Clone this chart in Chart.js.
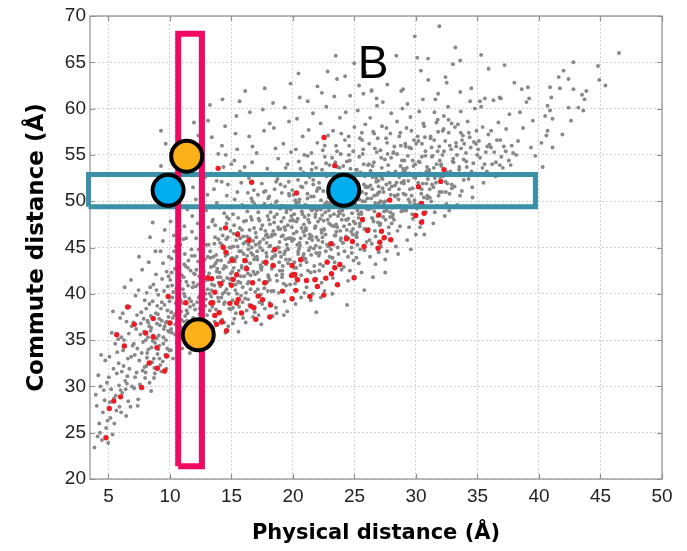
<!DOCTYPE html>
<html>
<head>
<meta charset="utf-8">
<script src="https://cdn.jsdelivr.net/npm/chart.js@4/dist/chart.umd.min.js"></script>
<style>
  html, body { margin: 0; padding: 0; background: #ffffff; }
  #wrap { width: 687px; height: 551px; }
</style>
</head>
<body>
<div id="wrap"><canvas id="chart" width="687" height="551"></canvas></div>
<script>
// Axis ticks
const xTicks = [5, 10, 15, 20, 25, 30, 35, 40, 45, 50];
const yTicks = [20, 25, 30, 35, 40, 45, 50, 55, 60, 65, 70];

// All residue pairs: [physical distance, commute distance] (Å)
const allPairs = [
  [3.86,23.4],[4.31,25.0],[4.05,27.9],[4.62,29.6],[4.18,31.2],[4.93,26.3],[4.47,24.2],[4.74,32.8],[3.97,29.1],[4.55,27.2],[4.25,26.0],[4.88,30.4],[4.12,24.6],[4.69,28.5],[4.4,33.4],[4.98,23.9],[4.35,30.0],[4.81,25.5],
  [5.12,28.3],[5.71,33.7],[5.03,31.0],[5.48,26.0],[5.86,30.1],[5.27,35.8],[5.59,29.0],[5.95,37.4],[5.33,24.8],[5.08,33.2],[5.64,27.4],[5.41,31.9],[5.79,35.1],[5.22,29.7],[5.9,27.8],[5.55,34.6],[5.16,26.6],[5.68,31.4],[5.37,38.1],[5.83,32.5],[5.45,28.7],[5.99,29.6],
  [6.08,31.6],[6.61,28.4],[6.27,35.0],[6.85,33.2],[6.4,29.7],[6.03,27.2],[6.73,38.6],[6.19,33.9],[6.54,31.1],[6.91,30.0],[6.32,40.7],[6.66,35.7],[6.12,29.3],[6.47,37.0],[6.97,34.4],[6.23,32.2],[6.79,27.8],[6.58,33.0],[6.36,30.6],[6.89,36.5],[6.05,35.3],[6.7,31.9],[6.44,26.8],[6.16,37.9],[6.83,41.5],[6.5,30.3],
  [7.14,33.4],[7.56,30.2],[7.03,36.9],[7.81,34.8],[7.29,31.5],[7.67,38.0],[7.42,28.6],[7.93,32.1],[7.2,39.8],[7.6,35.6],[7.09,29.8],[7.86,37.3],[7.35,34.1],[7.74,42.6],[7.51,32.8],[7.25,36.2],[7.98,30.9],[7.45,40.4],[7.7,33.6],[7.17,31.0],[7.89,35.9],[7.38,27.9],[7.63,36.8],[7.06,34.6],[7.48,44.0],[7.78,31.7],[7.32,37.7],[7.95,39.3],
  [8.21,35.3],[8.73,32.0],[8.07,38.4],[8.5,34.2],[8.94,36.8],[8.34,30.4],[8.66,41.0],[8.13,33.1],[8.86,37.9],[8.42,36.0],[8.02,31.5],[8.59,39.2],[8.28,43.4],[8.79,34.7],[8.47,29.5],[8.99,33.5],[8.17,37.1],[8.63,35.5],[8.38,46.1],[8.9,40.4],[8.25,34.0],[8.55,32.6],[8.82,44.6],[8.11,40.1],[8.45,37.6],[8.7,30.9],[8.32,36.5],[8.97,38.7],[8.6,47.7],[8.04,35.0],
  [9.18,36.6],[9.62,33.4],[9.05,39.9],[9.47,35.3],[9.88,37.5],[9.3,31.6],[9.73,42.4],[9.12,34.4],[9.55,38.8],[9.93,35.9],[9.24,44.6],[9.66,36.9],[9.41,32.7],[9.82,40.8],[9.02,37.8],[9.36,41.6],[9.78,34.1],[9.58,46.9],[9.15,33.0],[9.97,39.2],[9.5,36.2],[9.27,38.4],[9.7,31.9],[9.44,43.3],[9.85,36.0],[9.09,35.5],[9.6,49.4],[9.33,37.1],[9.91,44.0],[9.27,57.6],[9.65,56.2],[9.27,53.8],[9.52,40.3],
  [10.11,38.0],[10.57,34.8],[10.03,41.5],[10.44,36.7],[10.86,39.3],[10.25,33.0],[10.69,44.0],[10.15,35.8],[10.52,40.6],[10.93,37.2],[10.32,46.3],[10.76,38.6],[10.07,33.9],[10.4,42.7],[10.82,35.2],[10.2,39.6],[10.63,48.5],[10.96,42.0],[10.36,37.7],[10.72,32.4],[10.48,45.1],[10.13,43.8],[10.88,36.4],[10.29,51.0],[10.6,38.9],[10.99,34.1],[10.54,52.8],[10.18,40.9],[10.79,46.9],[10.42,35.6],[10.66,55.3],[10.05,47.8],
  [11.03,36.1],[11.47,40.9],[11.21,44.3],[11.88,37.4],[11.66,34.3],[11.12,41.8],[11.35,38.2],[11.79,46.7],[11.57,39.5],[11.95,42.2],[11.28,35.0],[11.41,49.1],[11.71,36.9],[11.06,39.0],[11.84,40.7],[11.5,43.6],[11.17,47.3],[11.62,33.6],[11.92,38.8],[11.33,41.3],[11.75,44.8],[11.24,37.6],[11.54,36.0],[11.09,45.9],[11.87,51.5],[11.43,37.9],[11.68,42.5],[11.99,35.7],[11.38,53.6],[11.14,40.0],[11.95,58.5],[11.6,55.9],[11.81,48.4],[11.26,43.0],
  [12.44,39.8],[12.07,36.5],[12.83,43.7],[12.29,41.0],[12.62,37.1],[12.95,45.3],[12.15,42.6],[12.51,48.9],[12.74,40.3],[12.36,35.4],[12.88,38.7],[12.02,44.1],[12.58,42.0],[12.22,39.1],[12.69,46.5],[12.41,37.8],[12.97,41.6],[12.11,50.2],[12.79,36.0],[12.33,44.8],[12.55,40.7],[12.26,47.6],[12.91,39.4],[12.47,34.5],[12.65,43.1],[12.05,38.3],[12.86,52.6],[12.38,41.9],[12.72,45.8],[12.18,54.3],[12.6,38.0],[12.94,49.0],[12.31,57.1],[12.49,43.4],[12.77,35.3],[12.13,46.0],
  [13.06,40.5],[13.63,37.0],[13.27,44.6],[13.88,41.8],[13.45,38.6],[13.12,47.2],[13.71,43.3],[13.36,39.7],[13.94,45.9],[13.53,36.3],[13.19,42.2],[13.81,49.8],[13.41,41.0],[13.02,37.7],[13.67,46.1],[13.3,43.9],[13.97,39.2],[13.58,51.3],[13.23,40.0],[13.76,44.2],[13.49,48.0],[13.09,35.6],[13.85,42.7],[13.39,53.0],[13.61,40.9],[13.15,45.3],[13.74,38.3],[13.33,42.9],[13.92,55.1],[13.55,44.0],[13.25,60.4],[13.1,58.7],[13.4,56.9],[13.83,36.7],[13.68,47.4],[13.05,50.7],[13.47,34.9],[13.79,52.2],
  [14.33,41.4],[14.81,38.4],[14.07,45.5],[14.56,42.9],[14.92,46.8],[14.18,39.6],[14.69,44.3],[14.41,48.7],[14.03,42.3],[14.87,41.1],[14.25,37.2],[14.62,50.6],[14.47,40.2],[14.96,43.8],[14.12,47.0],[14.74,36.5],[14.37,44.9],[14.58,45.9],[14.21,52.1],[14.89,39.0],[14.44,43.0],[14.09,40.8],[14.78,48.1],[14.29,46.3],[14.65,41.7],[14.51,35.8],[14.99,54.0],[14.15,43.6],[14.71,51.8],[14.39,38.9],[14.84,45.0],[14.23,56.0],[14.6,47.6],[14.05,49.3],[14.95,42.2],[14.48,58.1],[14.35,53.7],[14.77,40.0],[14.54,55.0],[14.27,61.0],
  [15.41,42.0],[15.09,39.3],[15.72,46.0],[15.28,43.5],[15.91,40.7],[15.55,48.2],[15.16,45.1],[15.83,43.0],[15.36,37.9],[15.64,44.6],[15.02,41.6],[15.48,51.0],[15.78,39.8],[15.22,47.4],[15.97,45.4],[15.59,42.5],[15.11,36.8],[15.44,44.0],[15.87,49.6],[15.31,40.4],[15.69,53.2],[15.05,43.9],[15.52,46.6],[15.94,37.4],[15.26,50.2],[15.76,41.9],[15.38,45.8],[15.13,48.6],[15.62,38.6],[15.85,46.9],[15.47,55.6],[15.19,42.8],[15.8,52.0],[15.33,57.3],[15.57,35.9],[15.99,44.3],[15.4,59.2],[15.66,60.8],[15.24,54.4],[15.73,41.2],
  [16.52,43.3],[16.18,40.1],[16.84,47.1],[16.37,44.8],[16.04,41.9],[16.7,50.0],[16.27,46.2],[16.95,43.9],[16.46,38.8],[16.13,45.6],[16.78,42.4],[16.58,48.3],[16.31,41.1],[16.89,38.0],[16.09,49.4],[16.64,45.0],[16.42,52.5],[16.22,43.5],[16.97,46.6],[16.55,40.5],[16.74,44.2],[16.01,47.8],[16.35,39.4],[16.82,51.2],[16.48,46.0],[16.16,36.9],[16.68,54.2],[16.29,48.9],[16.92,42.1],[16.6,44.4],[16.07,53.7],[16.44,57.0],[16.86,49.7],[16.2,42.9],[16.76,37.5],[16.39,45.3],[16.5,59.6],[16.12,61.9],[16.71,55.9],[16.33,50.9],
  [17.07,44.0],[17.63,41.2],[17.28,47.9],[17.86,45.5],[17.44,42.6],[17.15,50.7],[17.75,46.8],[17.38,39.9],[17.94,48.4],[17.53,44.7],[17.21,37.7],[17.81,43.2],[17.47,51.9],[17.02,46.1],[17.67,40.6],[17.33,45.0],[17.98,42.0],[17.58,49.5],[17.11,43.7],[17.72,38.4],[17.4,47.0],[17.91,53.5],[17.25,41.5],[17.6,45.9],[17.05,55.2],[17.83,44.4],[17.5,38.9],[17.18,48.8],[17.77,51.1],[17.36,43.1],[17.96,40.3],[17.65,57.6],[17.3,52.8],[17.88,46.4],[17.13,42.3],[17.55,59.9],[17.43,36.7],[17.7,62.2],[17.23,45.4],[17.99,50.3],
  [18.36,44.6],[18.02,41.8],[18.69,48.6],[18.24,46.2],[18.88,43.4],[18.51,51.3],[18.13,47.5],[18.77,45.0],[18.43,40.3],[18.95,49.2],[18.3,43.0],[18.62,38.5],[18.07,50.5],[18.83,47.0],[18.55,44.1],[18.19,53.0],[18.72,41.4],[18.4,46.8],[18.91,45.6],[18.1,39.0],[18.6,49.9],[18.27,43.8],[18.8,54.6],[18.47,47.7],[18.15,45.2],[18.66,42.0],[18.99,51.8],[18.34,37.6],[18.58,55.7],[18.04,48.0],[18.85,40.1],[18.45,57.9],[18.21,49.6],[18.74,52.4],[18.53,46.4],[18.38,60.6],[18.93,44.5],[18.11,58.4],[18.67,37.9],[18.28,42.7],
  [19.5,45.3],[19.14,42.5],[19.81,49.1],[19.37,46.9],[19.03,44.0],[19.66,52.1],[19.25,48.2],[19.92,45.7],[19.44,40.9],[19.09,50.9],[19.74,43.7],[19.58,47.4],[19.31,39.2],[19.87,48.4],[19.19,46.3],[19.62,44.8],[19.41,53.6],[19.97,42.2],[19.06,47.8],[19.7,50.6],[19.28,44.3],[19.53,38.1],[19.84,55.3],[19.17,43.0],[19.64,46.0],[19.35,51.6],[19.01,49.5],[19.77,41.0],[19.47,48.8],[19.22,56.2],[19.9,47.2],[19.56,54.0],[19.11,41.8],[19.68,58.6],[19.39,45.9],[19.8,62.7],[19.33,60.1],[19.94,51.2],[19.6,43.3],[19.26,37.7],
  [20.08,45.9],[20.61,43.1],[20.26,49.8],[20.89,47.5],[20.43,44.6],[20.15,52.8],[20.72,48.9],[20.35,41.6],[20.96,46.3],[20.53,50.2],[20.21,38.9],[20.81,44.0],[20.47,54.3],[20.04,47.9],[20.67,42.0],[20.3,46.7],[20.99,49.6],[20.57,45.2],[20.12,43.4],[20.76,51.5],[20.39,48.1],[20.93,40.1],[20.24,55.6],[20.63,46.0],[20.05,50.7],[20.85,53.1],[20.5,44.9],[20.18,41.1],[20.79,57.0],[20.41,52.3],[20.97,46.8],[20.66,39.6],[20.33,58.9],[20.88,44.3],[20.1,48.6],[20.55,61.2],[20.7,47.1],[20.28,42.8],[20.45,63.8],[20.92,55.0],
  [21.37,46.4],[21.02,43.8],[21.69,50.5],[21.24,48.0],[21.86,45.2],[21.52,53.4],[21.15,49.5],[21.78,47.1],[21.44,42.3],[21.94,51.1],[21.29,44.7],[21.61,40.0],[21.06,52.0],[21.83,48.6],[21.57,45.8],[21.2,54.9],[21.73,43.0],[21.41,49.2],[21.91,46.1],[21.11,40.7],[21.65,51.8],[21.33,47.7],[21.98,56.3],[21.48,44.2],[21.18,50.3],[21.76,42.4],[21.54,49.0],[21.27,57.7],[21.88,53.6],[21.08,46.9],[21.63,59.5],[21.45,39.3],[21.2,60.8],[21.81,48.3],[21.35,52.6],[21.7,44.9],[21.99,62.4],[21.5,55.2],[21.13,45.5],[21.9,41.6],[21.9,38.0],
  [22.53,47.0],[22.17,44.4],[22.83,51.0],[22.38,48.5],[22.05,45.8],[22.69,54.1],[22.28,50.1],[22.94,47.6],[22.45,43.0],[22.12,52.0],[22.77,45.3],[22.6,49.7],[22.33,41.2],[22.89,50.4],[22.22,48.1],[22.65,46.4],[22.42,55.5],[22.98,44.0],[22.08,49.3],[22.73,52.7],[22.3,46.9],[22.56,40.3],[22.86,57.1],[22.19,45.0],[22.63,48.8],[22.36,53.4],[22.02,51.4],[22.79,43.5],[22.49,47.9],[22.25,58.4],[22.92,49.0],[22.58,56.0],[22.14,42.5],[22.71,60.2],[22.4,46.1],[22.82,64.0],[22.35,61.7],[22.96,53.9],[22.67,44.6],[22.27,39.6],
  [23.11,47.4],[23.64,45.0],[23.29,51.6],[23.91,49.2],[23.46,46.3],[23.18,54.7],[23.75,50.8],[23.39,43.4],[23.97,48.0],[23.56,52.6],[23.24,41.7],[23.84,46.8],[23.5,56.0],[23.07,49.9],[23.7,44.3],[23.33,48.6],[23.02,51.2],[23.6,47.2],[23.15,45.5],[23.79,53.6],[23.42,50.0],[23.95,42.6],[23.26,57.6],[23.66,48.4],[23.08,52.9],[23.88,55.1],[23.53,46.7],[23.21,43.9],[23.81,59.0],[23.44,54.2],[23.99,49.5],[23.69,41.0],[23.36,61.3],[23.9,46.0],[23.13,50.5],[23.58,63.2],[23.73,48.9],[23.31,45.3],[23.48,65.7],[23.93,57.3],[23.2,40.0],
  [24.4,48.0],[24.04,45.5],[24.72,52.2],[24.26,49.6],[24.88,47.0],[24.55,55.0],[24.17,51.2],[24.8,48.7],[24.47,44.0],[24.96,52.9],[24.31,46.2],[24.63,42.5],[24.09,53.8],[24.85,50.3],[24.59,47.5],[24.22,56.6],[24.76,45.0],[24.43,50.9],[24.93,47.8],[24.13,42.9],[24.67,53.5],[24.35,49.3],[24.99,58.0],[24.51,46.0],[24.2,51.9],[24.78,44.4],[24.57,50.6],[24.29,59.6],[24.9,55.4],[24.1,48.5],[24.65,61.4],[24.48,41.4],[24.24,63.5],[24.83,49.9],[24.38,54.3],[24.73,46.7],[24.98,64.9],[24.53,57.0],[24.15,47.3],[24.92,43.6],[24.4,38.8],
  [25.55,48.6],[25.19,46.1],[25.84,52.7],[25.4,50.2],[25.07,47.6],[25.71,55.6],[25.3,51.8],[25.96,49.2],[25.47,44.8],[25.14,53.4],[25.79,47.0],[25.62,51.0],[25.35,43.3],[25.91,51.5],[25.24,49.0],[25.67,47.9],[25.44,56.8],[25.99,45.6],[25.1,50.4],[25.75,54.0],[25.32,48.2],[25.58,42.3],[25.88,58.3],[25.21,46.6],[25.65,50.0],[25.38,54.8],[25.04,52.4],[25.81,44.7],[25.51,49.5],[25.27,59.8],[25.94,50.8],[25.6,57.4],[25.16,43.9],[25.73,61.6],[25.42,47.3],[25.86,63.9],[25.37,62.5],[25.8,40.4],
  [26.13,49.1],[26.66,46.8],[26.31,53.3],[26.93,50.9],[26.48,48.1],[26.2,56.2],[26.77,52.1],[26.41,45.4],[26.98,49.8],[26.58,54.2],[26.26,44.0],[26.86,48.4],[26.52,57.5],[26.09,51.5],[26.72,46.2],[26.35,50.3],[26.04,52.9],[26.62,48.9],[26.17,47.0],[26.81,55.3],[26.44,51.3],[26.97,44.5],[26.28,59.0],[26.68,49.8],[26.1,53.9],[26.89,56.8],[26.55,47.8],[26.23,45.8],[26.83,60.3],[26.46,52.6],[26.95,51.6],[26.71,43.2],[26.38,61.9],[26.4,62.0],[26.8,61.1],[26.6,50.6],[26.5,41.8],
  [27.42,49.6],[27.06,47.4],[27.74,53.9],[27.28,51.4],[27.9,48.8],[27.57,56.8],[27.19,52.6],[27.82,50.2],[27.49,46.1],[27.98,54.7],[27.33,48.3],[27.65,44.6],[27.11,55.5],[27.87,52.0],[27.61,49.0],[27.24,58.1],[27.78,47.2],[27.45,52.9],[27.95,50.7],[27.15,45.1],[27.69,55.1],[27.37,51.0],[27.99,59.5],[27.53,48.0],[27.22,53.6],[27.8,46.5],[27.59,51.8],[27.31,60.7],[27.92,57.3],[27.12,50.0],[27.67,62.6],[27.5,43.7],[27.5,42.3],
  [28.58,50.2],[28.21,48.0],[28.86,54.4],[28.42,52.0],[28.09,49.3],[28.73,57.4],[28.33,53.2],[28.98,50.8],[28.5,46.8],[28.16,55.2],[28.81,48.9],[28.64,52.6],[28.37,45.1],[28.93,53.1],[28.26,50.6],[28.69,49.5],[28.46,58.6],[28.03,47.6],[28.77,56.0],[28.29,51.7],[28.55,44.3],[28.89,60.0],[28.13,48.6],[28.62,51.3],[28.4,65.7],[28.8,61.9],[28.95,62.1],[28.24,55.9],[28.7,47.3],
  [29.16,50.7],[29.69,48.6],[29.34,54.9],[29.95,52.5],[29.51,49.9],[29.23,57.9],[29.8,53.8],[29.44,47.2],[29.02,51.9],[29.61,55.7],[29.29,45.8],[29.88,50.1],[29.55,59.1],[29.11,53.3],[29.75,48.1],[29.38,52.2],[29.06,54.4],[29.65,50.6],[29.2,49.0],[29.84,56.6],[29.47,53.0],[29.99,46.4],[29.31,60.5],[29.9,67.8],[29.72,51.4],[29.13,56.2],[29.58,44.8],
  [30.46,51.3],[30.09,49.2],[30.77,55.4],[30.3,53.0],[30.93,50.6],[30.6,58.4],[30.22,54.3],[30.85,51.9],[30.53,47.9],[30.01,56.2],[30.36,49.8],[30.68,46.4],[30.14,57.0],[30.9,53.7],[30.64,50.4],[30.27,59.7],[30.81,48.8],[30.48,54.8],[30.97,52.4],[30.1,65.5],[30.98,65.4],[30.4,64.1],[30.72,56.9],[30.18,52.0],[30.56,61.0],[30.33,47.2],
  [31.62,52.0],[31.24,50.0],[31.89,55.9],[31.45,53.6],[31.12,51.3],[31.77,58.8],[31.36,54.9],[31.96,52.6],[31.53,48.8],[31.18,56.8],[31.84,50.6],[31.68,54.0],[31.41,47.6],[31.93,54.4],[31.3,51.8],[31.72,49.5],[31.5,59.6],[31.07,53.3],[31.8,57.5],[31.9,68.9],[31.0,63.1],[31.8,61.6],[31.58,61.0],[31.27,55.8],
  [32.19,52.7],[32.73,50.8],[32.38,56.5],[32.98,54.3],[32.55,51.9],[32.27,59.2],[32.86,55.6],[32.47,49.7],[32.06,53.8],[32.66,57.4],[32.34,48.4],[32.92,51.4],[32.6,60.2],[32.15,55.0],[32.79,53.2],[32.43,51.0],[32.4,63.4],[32.5,62.8],[32.9,58.4],[32.25,57.8],[32.7,49.0],
  [33.51,53.4],[33.14,51.6],[33.81,57.1],[33.33,55.0],[33.95,52.8],[33.64,59.7],[33.26,56.3],[33.88,54.5],[33.58,50.6],[33.05,54.2],[33.41,58.3],[33.73,51.1],[33.2,66.6],[33.0,64.8],[33.6,65.2],[33.6,61.8],[33.92,56.2],[33.36,49.6],[33.67,55.7],
  [34.66,54.1],[34.28,52.4],[34.92,57.6],[34.45,55.8],[34.13,53.7],[34.79,60.0],[34.37,56.9],[34.98,55.0],[34.57,51.5],[34.2,58.6],[34.84,53.0],[34.5,62.2],[34.4,60.8],[34.71,56.4],[34.06,55.2],[34.6,50.4],
  [35.21,54.7],[35.76,53.2],[35.42,58.0],[35.97,56.1],[35.58,54.0],[35.3,60.2],[35.88,57.2],[35.49,52.0],[35.3,65.8],[35.2,60.8],[35.6,61.1],[35.9,64.3],[35.12,56.5],[35.68,55.3],
  [36.36,55.3],[36.82,53.9],[36.11,57.6],[36.58,56.6],[36.94,54.8],[36.3,60.9],[36.8,61.2],[36.9,61.1],[36.47,52.7],[36.7,58.5],[36.2,54.0],
  [37.2,64.7],[37.14,55.9],[37.55,54.4],[37.33,57.8],[37.78,56.0],[37.06,53.6],[37.6,59.4],[37.9,55.2],
  [38.0,62.8],[38.6,62.1],[39.1,62.3],[39.2,61.1],[38.98,60.7],[39.5,58.7],[38.3,56.5],[38.7,57.9],[38.15,55.0],[39.35,55.8],[38.45,59.6],[39.7,54.9],
  [40.9,62.3],[41.7,62.2],[41.0,61.2],[40.7,60.3],[40.9,59.8],[40.5,59.2],[41.1,58.9],[40.7,57.6],[40.6,57.1],[41.1,55.8],[40.3,53.7],[42.8,65.0],[42.0,64.1],[41.6,63.4],[42.4,63.2],[42.8,62.1],[43.85,61.9],[43.5,61.5],[43.7,61.0],[42.4,60.1],[43.2,60.1],[43.6,59.8],[42.6,58.7],[44.8,64.6],[44.9,63.1],[45.4,62.5],[46.5,66.0],[40.2,56.3],[41.9,57.2],
  // core of the distribution
  [8.15,33.6],[8.48,36.3],[8.77,31.4],[8.33,38.9],[8.61,34.9],[8.92,35.2],[8.08,32.2],[8.56,37.4],[8.87,42.1],[8.23,36.9],[8.69,33.0],[8.4,40.7],
  [9.13,37.3],[9.46,34.6],[9.79,38.2],[9.21,32.3],[9.57,36.5],[9.89,41.9],[9.34,39.1],[9.68,35.0],[9.04,34.0],[9.42,45.7],[9.74,37.0],[9.95,33.9],
  [10.09,36.2],[10.47,39.0],[10.81,41.4],[10.23,37.4],[10.58,33.6],[10.91,38.1],[10.34,44.6],[10.66,36.6],[10.14,42.3],[10.5,37.9],[10.85,45.3],[10.27,40.2],[10.74,35.5],
  [11.05,40.5],[11.39,37.1],[11.72,39.2],[11.16,43.2],[11.52,35.3],[11.9,41.2],[11.31,46.0],[11.63,38.6],[11.84,36.2],[11.22,39.7],[11.46,42.8],[11.78,44.1],[11.11,37.0],
  [12.09,40.8],[12.43,38.4],[12.76,42.4],[12.21,36.9],[12.57,44.5],[12.89,40.0],[12.34,39.6],[12.67,37.4],[12.03,42.1],[12.52,46.9],[12.84,41.4],[12.28,43.5],[12.62,39.3],[12.96,37.0],
  [13.13,41.5],[13.52,39.1],[13.86,43.6],[13.24,38.2],[13.61,45.4],[13.96,41.2],[13.37,40.4],[13.7,37.7],[13.07,44.0],[13.44,47.8],[13.8,42.4],[13.29,36.1],[13.57,43.0],[13.91,39.6],
  [14.11,41.8],[14.46,39.1],[14.8,43.4],[14.22,45.3],[14.6,40.5],[14.94,38.3],[14.34,42.7],[14.7,46.1],[14.04,38.0],[14.52,44.1],[14.86,41.6],[14.28,40.0],[14.63,48.3],[14.97,45.0],[14.4,36.9],
  [15.07,42.4],[15.45,40.0],[15.79,44.6],[15.18,46.5],[15.56,41.3],[15.9,39.1],[15.29,43.8],[15.68,47.1],[15.12,38.5],[15.5,45.1],[15.84,42.8],[15.35,41.0],[15.62,49.4],[15.96,46.2],[15.23,37.3],
  [16.06,43.5],[16.41,41.3],[16.77,45.7],[16.19,47.9],[16.56,42.0],[16.93,40.2],[16.28,44.1],[16.66,48.0],[16.11,39.5],[16.48,46.9],[16.84,43.7],[16.34,42.2],[16.62,50.3],[16.97,45.3],[16.24,38.2],
  [17.09,44.6],[17.46,42.9],[17.8,46.3],[17.2,48.1],[17.57,43.4],[17.92,41.3],[17.32,45.6],[17.68,49.7],[17.14,40.5],[17.51,47.4],[17.87,44.0],[17.38,42.8],[17.63,51.0],[17.97,46.1],[17.27,39.1],
  [18.08,45.1],[18.44,43.0],[18.79,47.2],[18.18,48.8],[18.56,44.2],[18.92,42.5],[18.31,46.4],[18.68,50.0],[18.12,41.5],[18.49,48.3],[18.86,45.0],[18.37,44.0],[18.63,52.1],[18.97,47.0],[18.25,40.3],
  [19.07,46.2],[19.43,43.7],[19.78,47.9],[19.19,49.5],[19.55,44.9],[19.91,43.1],[19.3,47.2],[19.67,50.8],[19.13,42.1],[19.48,49.1],[19.85,46.0],[19.36,44.6],[19.62,52.8],[19.96,48.0],[19.24,41.1],
  [20.06,46.5],[20.42,44.3],[20.77,48.6],[20.19,50.1],[20.54,45.5],[20.9,43.7],[20.29,47.8],[20.66,51.6],[20.12,42.8],[20.48,49.9],[20.84,46.7],[20.35,45.3],[20.61,53.5],[20.95,48.3],[20.23,41.8],
  [21.05,47.1],[21.41,45.0],[21.76,49.2],[21.18,50.8],[21.53,46.2],[21.89,44.4],[21.28,48.5],[21.65,52.3],[21.11,43.4],[21.47,50.5],[21.83,47.3],[21.34,46.0],[21.6,54.1],[21.94,49.0],[21.22,42.5],
  [22.04,47.8],[22.4,45.6],[22.75,49.9],[22.17,51.4],[22.52,46.9],[22.88,45.1],[22.27,49.1],[22.64,53.0],[22.1,44.1],[22.46,51.1],[22.82,48.0],[22.33,46.6],[22.59,54.8],[22.93,49.6],[22.21,43.2],
  [23.03,48.4],[23.39,46.3],[23.74,50.5],[23.16,52.1],[23.51,47.5],[23.87,45.8],[23.26,49.8],[23.63,53.7],[23.09,44.8],[23.45,51.8],[23.81,48.7],[23.32,47.3],[23.58,55.4],[23.92,50.3],[23.2,43.9],
  [24.02,49.0],[24.38,46.9],[24.73,51.2],[24.15,52.8],[24.5,48.1],[24.86,46.4],[24.25,50.4],[24.62,54.4],[24.08,45.5],[24.44,52.4],[24.8,49.4],[24.31,48.0],[24.57,56.0],[24.91,50.9],[24.19,44.6],
  [25.06,49.7],[25.43,47.6],[25.77,51.8],[25.2,53.4],[25.55,48.8],[25.92,47.0],[25.3,51.1],[25.67,55.1],[25.13,46.3],[25.49,53.1],[25.85,50.0],[25.36,48.6],[25.62,56.6],[25.96,51.6],[25.24,45.3],
  [26.05,50.3],[26.42,48.2],[26.76,52.5],[26.19,54.0],[26.54,49.4],[26.91,47.7],[26.29,51.7],[26.66,55.7],[26.12,46.9],[26.48,53.8],[26.84,50.7],[26.35,49.2],[26.61,57.3],[26.95,52.2],
  [27.04,51.0],[27.41,48.9],[27.75,53.1],[27.18,54.7],[27.53,50.0],[27.9,48.3],[27.28,52.4],[27.65,56.3],[27.11,47.6],[27.47,54.5],[27.83,51.3],[27.34,49.9],[27.6,57.9],[27.94,52.9],
  [28.03,51.6],[28.4,49.5],[28.74,53.8],[28.17,55.3],[28.52,50.7],[28.89,49.0],[28.27,53.0],[28.64,57.0],[28.1,48.3],[28.46,55.1],[28.82,52.0],[28.33,50.5],[28.95,53.5],
  [29.02,52.2],[29.39,50.2],[29.73,54.4],[29.16,55.9],[29.51,51.3],[29.88,49.7],[29.26,53.6],[29.63,57.6],[29.09,49.0],[29.45,55.8],[29.81,52.6],[29.94,54.0],
  [30.06,52.8],[30.43,50.8],[30.77,54.9],[30.2,56.5],[30.55,51.9],[30.92,50.3],[30.3,54.2],[30.67,58.1],[30.13,49.6],[30.49,56.2],[30.85,53.2],
  [31.05,53.4],[31.42,51.5],[31.76,55.4],[31.19,57.0],[31.54,52.5],[31.91,51.0],[31.29,54.8],[31.66,58.5],[31.12,50.4],[31.48,56.6],
  [32.04,54.0],[32.41,52.1],[32.75,56.0],[32.18,57.6],[32.53,53.1],[32.9,51.8],[32.28,55.4],[32.65,58.8],[32.11,51.0],
  [33.03,54.6],[33.4,52.8],[33.74,56.6],[33.17,58.0],[33.52,53.7],[33.89,52.3],[33.27,55.9],[33.64,57.4],
  [34.09,54.3],[34.52,53.2],[34.88,56.2],[34.3,57.4],[35.05,55.6],[35.4,53.6],[35.8,55.9],[36.1,55.8],[36.5,54.2],[36.85,56.6],[37.3,55.4],[37.7,53.9]
];

// Highlighted pairs (red)
const highlightPairs = [
  [4.80,24.45],[5.07,27.62],[5.43,28.41],[5.99,28.87],[7.70,29.88],[5.67,35.59],[6.29,34.36],[6.56,38.57],[7.10,36.70],[8.02,35.76],
  [8.64,37.32],[8.64,35.33],[8.94,34.19],[9.73,33.29],[10.00,36.84],[8.32,32.53],[8.97,31.96],[9.57,31.67],[9.86,39.72],[11.30,39.04],
  [13.33,39.00],[13.79,36.70],[14.20,36.95],[14.60,36.02],[13.65,37.67],[14.87,38.97],[15.82,37.92],[13.47,39.04],[14.00,37.96],[13.06,41.73],
  [13.39,41.63],[14.55,44.49],[15.06,43.60],[16.09,43.60],[16.23,42.70],[17.80,43.42],[18.39,43.06],[19.93,43.06],[20.15,42.09],[17.72,41.20],
  [16.72,41.20],[15.42,42.06],[15.14,41.55],[15.01,40.91],[14.14,41.09],[19.15,40.29],[19.93,39.47],[17.17,39.75],[17.53,39.36],[16.58,38.67],
  [16.82,38.50],[15.42,39.00],[16.98,37.24],[18.12,37.49],[16.64,52.04],[20.29,50.89],[27.87,50.12],[25.65,48.02],[26.98,48.52],[26.07,46.83],
  [27.20,46.76],[27.41,46.05],[27.95,45.83],[24.35,45.94],[24.84,45.65],[25.78,45.11],[27.06,45.57],[26.92,44.92],[23.08,45.40],[14.52,47.12],
  [15.50,46.40],[16.42,45.75],[14.33,45.03],[18.53,44.78],[20.62,43.67],[22.78,43.42],[23.40,42.81],[23.81,43.17],[23.13,42.17],[22.67,41.69],
  [19.89,41.98],[20.37,41.52],[21.10,41.44],[21.78,41.52],[24.97,41.73],[23.62,40.98],[21.99,40.80],[20.23,40.37],[21.37,39.72],[22.51,39.86],
  [13.65,40.18],[15.55,39.40],[18.18,38.78],[22.53,56.89],[23.40,53.84],[13.92,53.55],[32.28,53.41],[32.01,52.14],[30.20,51.57],[30.45,49.77],
  [29.98,48.45],[30.66,48.70],[30.45,47.73]
];

// Vertical selection (physical distance window) and horizontal selection (commute distance window)
const bandX = [10.67, 12.60];
const bandY = [21.38, 68.07];
const stripX = [3.38, 39.71];
const stripY = [49.41, 52.88];

// Example pairs marked with discs
const orangePairs = [[11.36, 54.86], [12.30, 35.57]];
const bluePairs = [[9.85, 51.18], [24.13, 51.18]];

const toXY = (arr) => arr.map(p => ({ x: p[0], y: p[1] }));
const rectPath = (xs, ys) => [
  { x: xs[0], y: ys[0] }, { x: xs[1], y: ys[0] },
  { x: xs[1], y: ys[1] }, { x: xs[0], y: ys[1] }, { x: xs[0], y: ys[0] }
];

// Frame with inward tick marks on all four sides, plus the panel letter
const framePlugin = {
  id: 'frame',
  beforeDatasetsDraw(chart) {
    const { ctx, chartArea: a, scales: { x, y } } = chart;
    ctx.save();
    ctx.strokeStyle = '#8f8f8f';
    ctx.lineWidth = 1.2;
    ctx.strokeRect(a.left, a.top, a.right - a.left, a.bottom - a.top);
    const L = 5;
    ctx.beginPath();
    xTicks.forEach(v => {
      const px = Math.round(x.getPixelForValue(v)) + 0.5;
      ctx.moveTo(px, a.bottom); ctx.lineTo(px, a.bottom - L);
      ctx.moveTo(px, a.top); ctx.lineTo(px, a.top + L);
    });
    yTicks.forEach(v => {
      const py = Math.round(y.getPixelForValue(v)) + 0.5;
      ctx.moveTo(a.left, py); ctx.lineTo(a.left + L, py);
      ctx.moveTo(a.right, py); ctx.lineTo(a.right - L, py);
    });
    ctx.stroke();
    ctx.restore();
  },
  afterDatasetsDraw(chart, args, opts) {
    const { ctx, scales: { x, y } } = chart;
    ctx.save();
    ctx.fillStyle = '#000';
    ctx.font = '46px "Liberation Sans", Arial, sans-serif';
    ctx.textBaseline = 'alphabetic';
    ctx.textAlign = 'left';
    ctx.fillText(opts.text, x.getPixelForValue(opts.x), y.getPixelForValue(opts.y));
    ctx.restore();
  }
};

const gridCommon = {
  color: '#d2d2d2',
  lineWidth: 1,
  drawTicks: false,
  borderDash: [2, 2]
};
const borderCommon = { display: false, dash: [2, 2] };

new Chart(document.getElementById('chart'), {
  type: 'scatter',
  data: {
    datasets: [
      {
        label: 'orange',
        data: toXY(orangePairs),
        pointRadius: 15.5,
        pointBackgroundColor: '#fbb117',
        pointBorderColor: '#000',
        pointBorderWidth: 4,
        clip: false
      },
      {
        label: 'blue',
        data: toXY(bluePairs),
        pointRadius: 15.5,
        pointBackgroundColor: '#00aeef',
        pointBorderColor: '#000',
        pointBorderWidth: 4,
        clip: false
      },
      {
        label: 'band',
        data: rectPath(bandX, bandY),
        showLine: true,
        borderColor: '#f20a62',
        borderWidth: 6,
        pointRadius: 0,
        fill: false,
        tension: 0,
        borderJoinStyle: 'miter',
        clip: false
      },
      {
        label: 'strip',
        data: rectPath(stripX, stripY),
        showLine: true,
        borderColor: '#3a91a7',
        borderWidth: 5,
        pointRadius: 0,
        fill: false,
        tension: 0,
        borderJoinStyle: 'miter',
        clip: false
      },
      {
        label: 'highlight',
        data: toXY(highlightPairs),
        pointRadius: 2.7,
        pointBackgroundColor: '#ec1c24',
        pointBorderWidth: 0
      },
      {
        label: 'all',
        data: toXY(allPairs),
        pointRadius: 1.95,
        pointBackgroundColor: '#888888',
        pointBorderWidth: 0
      }
    ]
  },
  options: {
    responsive: false,
    animation: false,
    devicePixelRatio: 1,
    layout: { autoPadding: false, padding: { left: 0, top: 16, right: 25, bottom: 0 } },
    plugins: {
      legend: { display: false },
      tooltip: { enabled: false },
      frame: { text: 'B', x: 25.27, y: 63.35 }
    },
    scales: {
      x: {
        type: 'linear',
        min: 3.5,
        max: 50,
        afterBuildTicks: (s) => { s.ticks = xTicks.map(v => ({ value: v })); },
        afterFit: (s) => { s.height = 72; },
        border: borderCommon,
        grid: gridCommon,
        ticks: {
          padding: 6,
          color: '#222',
          font: { family: '"Liberation Sans", Arial, sans-serif', size: 19 }
        },
        title: {
          display: true,
          text: 'Physical distance (Å)',
          color: '#000',
          font: { family: '"DejaVu Sans", Verdana, sans-serif', size: 21, weight: 'bold' },
          padding: { top: 0, bottom: 5 }
        }
      },
      y: {
        type: 'linear',
        min: 20,
        max: 70,
        afterBuildTicks: (s) => { s.ticks = yTicks.map(v => ({ value: v })); },
        afterFit: (s) => { s.width = 90; },
        border: borderCommon,
        grid: gridCommon,
        ticks: {
          padding: 4,
          color: '#222',
          font: { family: '"Liberation Sans", Arial, sans-serif', size: 19 }
        },
        title: {
          display: true,
          text: 'Commute distance (Å)',
          color: '#000',
          font: { family: '"DejaVu Sans", Verdana, sans-serif', size: 23, weight: 'bold' },
          padding: { top: 23, bottom: 0 }
        }
      }
    }
  },
  plugins: [framePlugin]
});
</script>
</body>
</html>
